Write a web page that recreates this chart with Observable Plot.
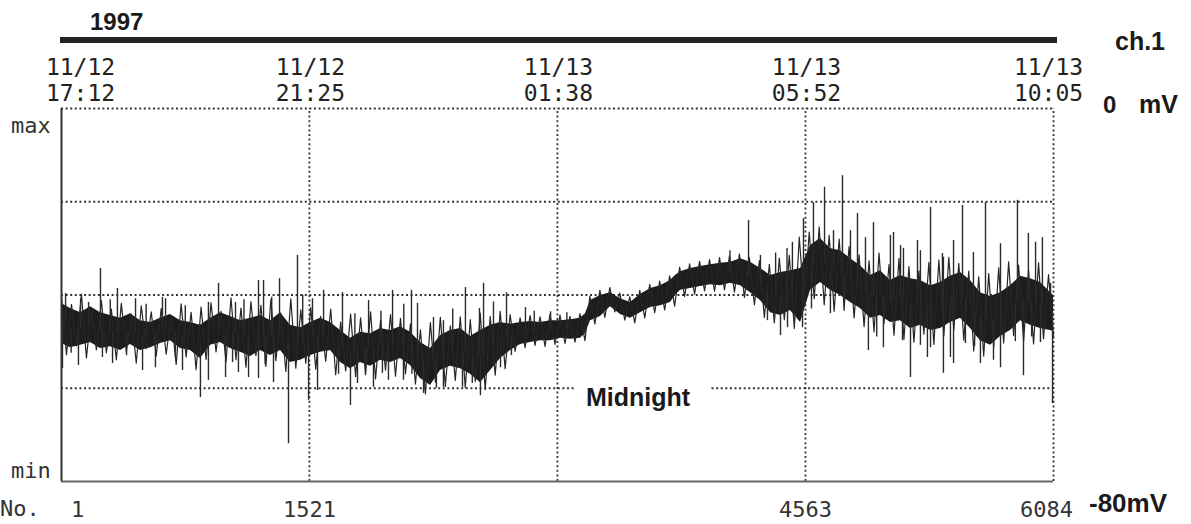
<!DOCTYPE html>
<html><head><meta charset="utf-8">
<script src="https://cdn.jsdelivr.net/npm/d3@7"></script>
<script src="https://cdn.jsdelivr.net/npm/@observablehq/plot@0.6"></script>
<style>html,body{margin:0;padding:0;background:#fff} svg{display:block}</style>
</head><body><div id="chart"></div>
<script>
// ---- data (sample number No., potential in mV) ----
// dense core of the trace: upper / lower edge
const bandNo = [1,56,118,179,240,301,363,424,485,547,608,669,731,792,853,915,976,1037,1099,1160,1221,1283,1344,1405,1467,1528,1589,1651,1712,1773,1834,1896,1957,2018,2080,2141,2202,2264,2325,2386,2448,2509,2570,2632,2693,2754,2816,2877,2938,3000,3061,3122,3183,3214,3245,3306,3367,3429,3490,3551,3613,3674,3735,3766,3797,3858,3919,3981,4042,4103,4165,4226,4287,4349,4410,4471,4533,4594,4655,4716,4778,4839,4900,4962,5023,5084,5146,5207,5268,5330,5391,5452,5514,5575,5636,5698,5759,5820,5882,5943,6004,6084];
const bandHi = [-41.8,-42.9,-43.8,-42.5,-43.8,-44.4,-45.0,-44.0,-45.5,-45.9,-45.0,-44.2,-45.5,-45.9,-46.5,-45.0,-43.8,-44.6,-45.5,-45.0,-44.4,-45.5,-43.8,-46.5,-47.0,-45.9,-45.0,-45.9,-47.6,-49.3,-48.0,-48.3,-47.2,-47.6,-46.8,-48.0,-50.2,-51.5,-48.7,-47.6,-47.2,-48.9,-47.6,-46.5,-45.9,-46.3,-45.9,-45.7,-45.9,-45.5,-45.5,-45.3,-45.0,-44.0,-41.2,-40.1,-39.5,-40.8,-41.6,-39.9,-38.6,-38.0,-36.9,-35.8,-35.0,-34.3,-33.9,-33.5,-33.2,-33.0,-32.2,-33.0,-34.3,-35.8,-35.2,-34.8,-34.3,-29.4,-27.9,-30.0,-30.5,-32.2,-33.7,-35.8,-34.8,-36.9,-35.8,-36.5,-36.9,-38.0,-37.3,-36.0,-35.2,-36.9,-39.5,-40.3,-39.5,-38.0,-36.0,-36.5,-37.3,-40.1];
const bandLo = [-50.4,-51.3,-50.8,-50.2,-51.5,-51.1,-51.9,-50.6,-51.9,-51.3,-50.4,-49.8,-51.5,-51.9,-53.6,-50.8,-50.2,-51.5,-52.3,-53.2,-51.9,-53.0,-51.9,-54.5,-54.0,-53.0,-52.3,-51.9,-54.5,-55.8,-54.5,-55.3,-54.0,-54.5,-53.6,-55.1,-57.9,-59.4,-56.2,-55.3,-55.8,-57.0,-58.8,-56.2,-53.6,-51.9,-50.6,-50.2,-49.8,-49.8,-49.3,-49.5,-49.3,-48.3,-45.5,-44.6,-42.5,-44.2,-45.0,-43.8,-42.7,-42.3,-41.6,-40.1,-39.0,-38.6,-38.2,-37.8,-38.0,-37.5,-38.0,-39.5,-41.2,-43.8,-44.4,-43.3,-45.9,-39.0,-37.3,-39.0,-40.1,-41.6,-42.9,-45.0,-44.4,-45.9,-45.5,-47.2,-46.5,-47.6,-47.2,-45.9,-45.0,-47.2,-49.8,-50.8,-48.9,-47.6,-45.5,-46.5,-47.2,-47.8];

// decimated trace (alternating local max / local min), 200 readings across No. 1..6084
const traceMv = [
  -40.5,-52.8,-42.0,-50.9,-39.8,-53.5,-43.1,-51.8,-41.2,-52.4,
  -43.0,-53.9,-41.8,-52.2,-44.1,-54.6,-42.3,-51.5,-43.6,-53.1,
  -42.9,-52.7,-44.4,-54.9,-41.9,-53.3,-43.7,-56.0,-42.6,-53.8,
  -41.7,-52.2,-43.5,-54.3,-40.6,-53.9,-42.8,-55.5,-41.4,-53.0,
  -42.2,-55.3,-41.0,-54.1,-43.9,-56.4,-40.8,-55.7,-43.2,-54.6,
  -42.7,-55.9,-44.6,-54.2,-43.0,-57.1,-45.8,-56.3,-44.1,-57.5,
  -44.9,-56.8,-43.6,-58.0,-45.4,-56.1,-44.2,-57.4,-45.0,-56.9,
  -46.2,-59.1,-47.5,-61.2,-45.9,-58.7,-44.8,-59.6,-46.6,-58.3,
  -44.7,-59.9,-45.3,-58.6,-43.9,-60.3,-44.6,-57.2,-43.5,-55.8,
  -44.2,-52.1,-44.9,-51.3,-44.4,-50.8,-44.7,-51.0,-44.1,-50.6,
  -44.3,-50.4,-44.6,-50.1,-44.0,-49.8,-40.3,-46.2,-39.0,-44.8,
  -38.4,-43.6,-39.6,-45.4,-40.4,-46.0,-39.0,-44.9,-37.7,-43.8,
  -37.0,-43.2,-35.9,-42.4,-34.0,-40.3,-33.3,-39.8,-32.8,-39.1,
  -32.4,-39.2,-32.0,-38.9,-31.6,-39.4,-31.2,-40.5,-32.0,-42.1,
  -32.6,-44.8,-33.4,-46.0,-32.1,-45.3,-31.5,-47.2,-27.6,-42.0,
  -26.5,-40.8,-25.4,-42.1,-27.2,-43.5,-28.0,-42.6,-29.6,-44.9,
  -31.4,-46.8,-32.7,-47.9,-31.0,-46.1,-33.5,-48.6,-32.2,-49.5,
  -33.9,-50.1,-34.8,-48.4,-33.0,-50.6,-32.5,-48.8,-31.9,-47.5,
  -33.2,-49.7,-34.9,-52.0,-36.1,-53.1,-35.4,-51.2,-34.2,-50.3,
  -32.9,-48.7,-33.6,-49.9,-34.7,-50.5,-33.1,-49.4,-35.6,-48.9
];

const spikeUpNo = [26,118,167,240,300,344,455,520,620,639,760,902,964,1068,1120,1209,1240,1290,1338,1448,1480,1540,1608,1724,1800,1884,1960,2031,2100,2147,2184,2282,2343,2400,2478,2564,2589,2650,2730,2846,2900,3000,3100,4100,4214,4287,4380,4450,4483,4551,4612,4680,4735,4790,4839,4882,4931,4980,5084,5103,5146,5164,5250,5268,5330,5403,5409,5471,5526,5593,5667,5759,5863,5930,5974,6016,6066];
const spikeUpMv = [-39.7,-40.8,-41.6,-34.3,-41.0,-38.6,-40.8,-42.0,-40.5,-40.8,-42.3,-41.6,-37.5,-41.6,-41.0,-36.9,-36.9,-40.5,-36.5,-31.5,-40.0,-40.8,-39.0,-39.5,-44.0,-41.2,-43.5,-39.0,-42.0,-39.0,-41.8,-44.8,-45.5,-43.0,-38.4,-42.9,-37.5,-41.5,-39.5,-42.7,-43.5,-43.6,-43.8,-30.5,-24.0,-31.5,-31.0,-30.0,-28.7,-23.6,-20.2,-16.9,-26.2,-14.4,-26.2,-22.5,-27.7,-24.5,-27.2,-26.6,-29.4,-30.0,-28.3,-30.5,-21.2,-31.1,-31.9,-28.3,-20.8,-30.9,-20.2,-29.0,-19.7,-26.8,-28.7,-27.7,-37.5];

const spikeDownNo = [7,60,105,252,314,400,498,577,700,743,853,902,1007,1050,1086,1148,1209,1250,1301,1393,1516,1571,1700,1773,1816,1865,1914,1969,2006,2098,2150,2221,2300,2343,2460,2520,2570,2693,2760,4330,4410,4453,4545,4600,4716,4800,4949,5000,5041,5158,5207,5268,5311,5330,5409,5452,5471,5544,5600,5636,5716,5759,5850,5900,5950,6004,6078];
const spikeDownMv = [-55.8,-52.5,-55.1,-53.4,-54.7,-53.0,-56.2,-55.6,-53.5,-56.2,-62.0,-58.3,-57.7,-54.5,-56.6,-57.7,-57.9,-55.0,-58.8,-71.9,-62.6,-60.5,-57.0,-63.7,-59.0,-57.3,-59.8,-56.8,-58.3,-58.3,-57.0,-61.1,-60.0,-59.8,-59.8,-59.0,-61.6,-55.6,-53.0,-45.5,-48.7,-47.0,-47.0,-43.0,-44.0,-43.5,-51.9,-49.0,-51.3,-49.8,-57.7,-50.8,-53.4,-51.3,-56.8,-53.4,-54.7,-50.4,-51.0,-54.7,-54.0,-55.6,-50.0,-57.3,-49.0,-50.2,-63.3];

const tickNos = [1, 1521, 3042, 4563, 6084];
const topLabels = ["11/12\n17:12", "11/12\n21:25", "11/13\n01:38", "11/13\n05:52", "11/13\n10:05"];
const bottomLabels = ["1", "1521", "", "4563", "6084"];
const gridMv = [0, -20, -40];
const lowGridMv = -60;
const lowGridSpans = [[1, 3150], [3990, 6084]];

// ---- build tables ----
const band = bandNo.map((no, i) => ({no, hi: bandHi[i], lo: bandLo[i]}));
const lastNo = 6084;
const trace = traceMv.map((mv, i) => ({no: 1 + i * (lastNo - 1) / (traceMv.length - 1), mv}));
function bandMid(no) {
  let b = d3.bisectLeft(bandNo, no);
  b = Math.min(Math.max(b, 1), bandNo.length - 1);
  const a = b - 1;
  const t = (no - bandNo[a]) / (bandNo[b] - bandNo[a]);
  const ma = (bandHi[a] + bandLo[a]) / 2, mb = (bandHi[b] + bandLo[b]) / 2;
  return ma + (mb - ma) * t;
}
const spikes = [
  ...spikeUpNo.map((no, i) => ({no, mv: spikeUpMv[i], base: bandMid(no)})),
  ...spikeDownNo.map((no, i) => ({no, mv: spikeDownMv[i], base: bandMid(no)}))
];
const lowGrid = lowGridSpans.map(([a, b]) => ({x1: a, x2: b, y: lowGridMv}));
const tickTable = tickNos.map((no, i) => ({no, top: topLabels[i], bottom: bottomLabels[i]}));

const mono = "'DejaVu Sans Mono', monospace";
const grid = {stroke: "#333", strokeWidth: 1.8, strokeDasharray: "2,2.6"};

const chart = Plot.plot({
  width: 1191, height: 524,
  marginLeft: 61, marginRight: 138, marginTop: 108, marginBottom: 43,
  x: {domain: [1, 6084], axis: null},
  y: {domain: [-80, 0], axis: null},
  style: {fontFamily: mono, fontSize: "22px", background: "#fff", color: "#222", overflow: "visible"},
  marks: [
    Plot.ruleY(gridMv, grid),
    Plot.ruleY(lowGrid, {x1: "x1", x2: "x2", y: "y", ...grid}),
    Plot.ruleX(tickNos.slice(1), {y1: -80, y2: 0, ...grid}),
    Plot.areaY(band, {x: "no", y1: "lo", y2: "hi", fill: "#1d1d1d"}),
    Plot.line(trace, {x: "no", y: "mv", stroke: "#262626", strokeWidth: 1.2}),
    Plot.ruleX(spikes, {x: "no", y1: "base", y2: "mv", stroke: "#2a2a2a", strokeWidth: 1.4}),
    Plot.ruleX([1], {y1: -80, y2: 0, stroke: "#333", strokeWidth: 2}),
    Plot.ruleY([-80], {stroke: "#666", strokeWidth: 2}),
    // top date/time labels
    Plot.text(tickTable.slice(0, 1), {x: "no", text: "top", frameAnchor: "top", lineAnchor: "bottom", dy: -8, dx: 19, lineHeight: 1.1, fontSize: 23, fill: "#222"}),
    Plot.text(tickTable.slice(1, 4), {x: "no", text: "top", frameAnchor: "top", lineAnchor: "bottom", dy: -8, dx: 1, lineHeight: 1.1, fontSize: 23, fill: "#222"}),
    Plot.text(tickTable.slice(4), {x: "no", text: "top", frameAnchor: "top", lineAnchor: "bottom", dy: -8, dx: -5, lineHeight: 1.1, fontSize: 23, fill: "#222"}),
    // bottom sample numbers
    Plot.text(tickTable.slice(0, 1), {x: "no", text: "bottom", frameAnchor: "bottom", lineAnchor: "bottom", dy: 35, dx: 16, fontSize: 22, fill: "#333"}),
    Plot.text(tickTable.slice(1, 4), {x: "no", text: "bottom", frameAnchor: "bottom", lineAnchor: "bottom", dy: 35, fontSize: 22, fill: "#333"}),
    Plot.text(tickTable.slice(4), {x: "no", text: "bottom", frameAnchor: "bottom", lineAnchor: "bottom", dy: 35, dx: -7, fontSize: 22, fill: "#333"})
  ]
});

const svg = d3.select(chart);
const xs = chart.scale("x");
// year bar
svg.append("line").attr("x1", xs.apply(1) - 1).attr("x2", xs.apply(6084) + 4)
  .attr("y1", 40).attr("y2", 40).attr("stroke", "#222").attr("stroke-width", 6);
const bold = "'Liberation Sans', Arial, sans-serif";
function label(txt, x, y, opts = {}) {
  svg.append("text").attr("x", x).attr("y", y)
    .attr("font-family", opts.family || bold)
    .attr("font-weight", opts.weight || "bold")
    .attr("font-size", opts.size || 24)
    .attr("text-anchor", opts.anchor || "start")
    .attr("fill", opts.fill || "#1a1a1a")
    .text(txt);
}
label("1997", 90, 30, {size: 24});
label("ch.1", 1115, 50, {size: 25});
label("0", 1103, 113, {size: 24});
label("mV", 1139, 113, {size: 25});
label("-80mV", 1089, 512, {size: 26});
label("Midnight", 586, 406, {size: 25});
label("max", 11, 133, {family: mono, weight: "normal", size: 22, fill: "#333"});
label("min", 11, 478, {family: mono, weight: "normal", size: 22, fill: "#333"});
label("No.", 0, 516, {family: mono, weight: "normal", size: 22, fill: "#333"});

document.getElementById("chart").append(chart);
</script>
</body></html>
